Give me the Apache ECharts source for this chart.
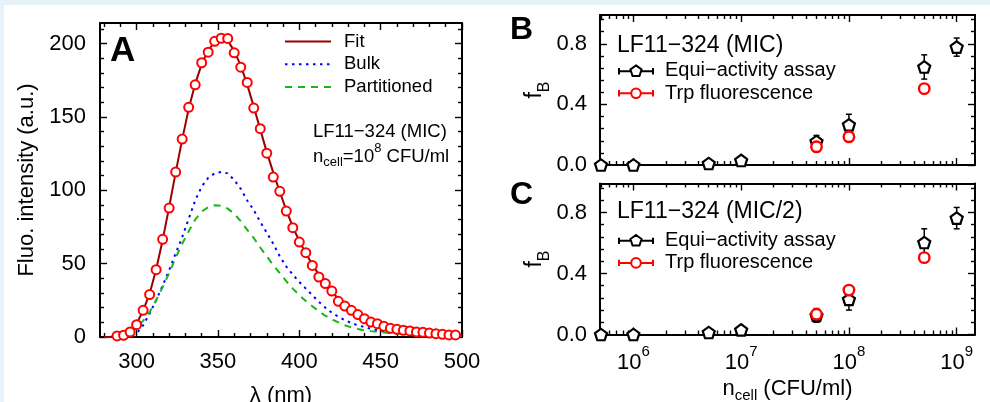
<!DOCTYPE html>
<html><head><meta charset="utf-8">
<script src="https://cdn.jsdelivr.net/npm/echarts@6/dist/echarts.min.js"></script>
<style>
html,body{margin:0;padding:0;background:#fff;}
#wrap{position:relative;width:990px;height:402px;overflow:hidden;background:#fff;}
#chart{position:absolute;left:0;top:0;width:990px;height:402px;}
#stripTop{position:absolute;left:0;top:0;width:990px;height:5px;background:#e6f3fa;}
#stripLeft{position:absolute;left:0;top:0;width:4px;height:402px;background:#e6f3fa;}
</style></head>
<body><div id="wrap"><div id="chart"></div><div id="stripTop"></div><div id="stripLeft"></div></div>
<script>
// ---------- Panel A data ----------
const measuredWavelength = [288,292,296,300,304,308,312,316,320,324,328,332,336,340,344,348,352,356,360,364,368,372,376,380,384,388,392,396,400,404,408,412,416,420,424,428,432,436,440,444,448,452,456,460,464,468,472,476,480,484,488,492,496];
const measuredIntensity = [0.7,1.2,3.4,8.4,18.2,28.9,45.9,66.6,87.9,112.4,134.9,156.5,171.9,186.9,194.1,201.5,203.6,203.5,193.7,183.9,173.5,156.0,142.0,125.3,109.0,99.3,85.8,74.5,64.7,57.5,48.8,40.9,36.4,31.3,24.3,21.1,18.2,15.3,12.5,10.2,9.1,7.3,5.9,5.2,4.6,4.1,3.4,3.2,2.7,2.3,1.8,1.4,1.4];
const curveWavelength = [280,284,288,292,296,300,304,308,312,316,320,324,328,332,336,340,344,348,352,356,360,364,368,372,376,380,384,388,392,396,400,404,408,412,416,420,424,428,432,436,440,444,448,452,456,460,464,468,472,476,480,484,488,492,496,500];
const fitIntensity = [0,0.1,0.6,1.5,4,9,18,29.5,46,66,88.5,112,134.5,155.5,172.5,186,195.5,201,203.5,202,195,185,172,157,141.5,126,112,99,86.5,75,65.5,57,49.5,42.5,36.5,31,26,22,18.5,15.5,13,11,9,7.5,6.3,5.3,4.5,3.9,3.3,2.9,2.5,2.1,1.8,1.5,1.3,1.1];
const bulkIntensity = [0,0,0.1,0.3,0.9,2.3,8,16,25,35,45.5,57,68,80.5,93,102.5,108.5,111.5,112.5,111.5,107,101,93,86.5,78.5,71,63.5,55,48,42.5,37.5,33,28.5,24,20,16.5,13.8,11.5,9.5,8,6.8,5.6,4.6,3.8,3.1,2.5,2.1,1.7,1.4,1.2,1.0,0.8,0.7,0.6,0.5,0.4];
const partitionedIntensity = [0,0.1,0.5,1.5,3.5,6.5,11,17,25,34,43.5,54,63.5,72,80,85.5,88.5,89.8,89.5,87.5,84,79,73,67.5,61,55,49,43.5,38,33,28.5,24.5,21,17.5,14.5,12,10,8,6.5,5.5,4.6,4,3.5,3,2.6,2.3,2,1.8,1.6,1.4,1.3,1.2,1.1,1.0,0.9,0.9];
const aXTicks = [300,350,400,450,500];
const aXMinorTicks = [280,290,310,320,330,340,360,370,380,390,410,420,430,440,460,470,480,490];
const aYTicks = [0,50,100,150,200];
const aYMinorTicks = [10,20,30,40,60,70,80,90,110,120,130,140,160,170,180,190,210];

// ---------- Panels B & C data ----------
const nCell = [5e5,1e6,5e6,1e7,5e7,1e8,5e8,1e9];
const equiB = [0,0,0.01,0.03,0.155,0.265,0.647,0.778];
const equiBErr = [0,0,0,0,0.04,0.07,0.08,0.06];
const trpCell = [5e7,1e8,5e8];
const trpB = [0.12,0.186,0.504];
const equiC = [0,0,0.013,0.03,0.125,0.23,0.603,0.763];
const equiCErr = [0,0,0,0,0.045,0.07,0.09,0.07];
const trpC = [0.133,0.291,0.504];
const nCellTicks = [1e6,1e7,1e8,1e9];
const nCellMinorTicks = [5e5,6e5,7e5,8e5,9e5,2e6,3e6,4e6,5e6,6e6,7e6,8e6,9e6,2e7,3e7,4e7,5e7,6e7,7e7,8e7,9e7,2e8,3e8,4e8,5e8,6e8,7e8,8e8,9e8];
const fBTicks = [0,0.4,0.8];
const fBMinorTicks = [0.08,0.16,0.24,0.32,0.48,0.56,0.64,0.72,0.88,0.96];

const FONT = "'Liberation Sans', Arial, Helvetica, sans-serif";
const lg = v => Math.log10(v);

const xAxes = [], yAxes = [];
function makeAxes(list, dim, grid, min, max, major, minor, label, nameOpt) {
  const first = list.length;
  const common = {type:'value', gridIndex:grid, min:min, max:max, splitLine:{show:false}, silent:true};
  const pos = dim === 'x' ? ['bottom','top'] : ['left','right'];
  pos.forEach((p, k) => {
    const main = Object.assign({}, common, {
      position:p,
      axisLine:{show:true, onZero:false, lineStyle:{color:'#000', width:2}},
      axisTick:{show:true, inside:true, length:7, customValues:major, lineStyle:{color:'#000', width:1.4}},
      axisLabel:(k === 0 && label) ? Object.assign({show:true, customValues:major, fontFamily:FONT, color:'#000'}, label) : {show:false}
    });
    if (k === 0 && nameOpt) Object.assign(main, nameOpt);
    list.push(main);
    list.push(Object.assign({}, common, {
      position:p,
      axisLine:{show:false, onZero:false},
      axisTick:{show:true, inside:true, length:4, customValues:minor, lineStyle:{color:'#000', width:1.4}},
      axisLabel:{show:false}
    }));
  });
  return first;
}

// Panel A axes
const axA = makeAxes(xAxes, 'x', 0, 277.5, 500, aXTicks, aXMinorTicks,
  {fontSize:22, margin:14},
  {name:'λ (nm)', nameLocation:'middle', nameGap:48, nameTextStyle:{fontFamily:FONT, fontSize:22, color:'#000'}});
const ayA = makeAxes(yAxes, 'y', 0, 0, 214, aYTicks, aYMinorTicks,
  {fontSize:22, margin:14},
  {name:'Fluo. intensity (a.u.)', nameLocation:'middle', nameGap:62, nameRotate:90, nameTextStyle:{fontFamily:FONT, fontSize:22, color:'#000'}});

// Panel B / C axes (log scale shown through log10 values)
const logMajor = nCellTicks.map(lg), logMinor = nCellMinorTicks.map(lg);
const xMin = 5.69, xMax = 9.17;
const fBName = {name:'{a|f}{s|B}', nameLocation:'middle', nameGap:52, nameRotate:90,
  nameTextStyle:{fontFamily:FONT, color:'#000', rich:{
    a:{fontFamily:FONT, fontSize:23, lineHeight:23, verticalAlign:'top', color:'#000'},
    s:{fontFamily:FONT, fontSize:16, lineHeight:16, padding:[13,0,0,0], verticalAlign:'top', color:'#000'}}}};
const fBLabel = {fontSize:22, margin:13, formatter:v => v.toFixed(1)};
const axB = makeAxes(xAxes, 'x', 1, xMin, xMax, logMajor, logMinor, null, null);
const ayB = makeAxes(yAxes, 'y', 1, 0, 0.99, fBTicks, fBMinorTicks, fBLabel, fBName);
const axC = makeAxes(xAxes, 'x', 2, xMin, xMax, logMajor, logMinor,
  {margin:10, formatter:v => '{b|10}{s|' + Math.round(v) + '}',
   rich:{b:{fontFamily:FONT, fontSize:22, lineHeight:22, padding:[7,0,0,0], verticalAlign:'top', color:'#000'},
         s:{fontFamily:FONT, fontSize:15, lineHeight:15, verticalAlign:'top', color:'#000'}}},
  {name:'{a|n}{s|cell}{a| (CFU/ml)}', nameLocation:'middle', nameGap:43,
   nameTextStyle:{fontFamily:FONT, color:'#000', rich:{
     a:{fontFamily:FONT, fontSize:22, lineHeight:22, verticalAlign:'top', color:'#000'},
     s:{fontFamily:FONT, fontSize:15, lineHeight:15, padding:[11,0,0,0], verticalAlign:'top', color:'#000'}}}});
const ayC = makeAxes(yAxes, 'y', 2, 0, 0.99, fBTicks, fBMinorTicks, fBLabel, fBName);

const pentagon = 'path://M0,-1L0.951,-0.309L0.588,0.809L-0.588,0.809L-0.951,-0.309Z';
const pentIcon = 'path://M0.5,3L0.5,9M0.5,6L11.8,6M21.2,6L32.5,6M32.5,3L32.5,9M16.5,0.5L21.73,4.3L19.73,10.45L13.27,10.45L11.27,4.3Z';
const circIcon = 'path://M0.5,3L0.5,9M0.5,6L12,6M21,6L32.5,6M32.5,3L32.5,9M12,6A4.5,4.5,0,1,0,21,6A4.5,4.5,0,1,0,12,6Z';

function errRender(params, api) {
  const x = api.value(0), y = api.value(1), e = api.value(2);
  if (!e) return null;
  const p1 = api.coord([x, y - e]), p2 = api.coord([x, y + e]);
  const hw = 3, st = {stroke:'#000', lineWidth:1.5};
  return {type:'group', children:[
    {type:'line', shape:{x1:p1[0], y1:p1[1], x2:p2[0], y2:p2[1]}, style:st},
    {type:'line', shape:{x1:p1[0]-hw, y1:p1[1], x2:p1[0]+hw, y2:p1[1]}, style:st},
    {type:'line', shape:{x1:p2[0]-hw, y1:p2[1], x2:p2[0]+hw, y2:p2[1]}, style:st}
  ]};
}
function panelSeries(ax, ay, equi, err, trp) {
  return [
    {type:'custom', name:'err'+ax, xAxisIndex:ax, yAxisIndex:ay, renderItem:errRender, clip:false, z:2,
     data:nCell.map((c,i) => [lg(c), equi[i], err[i]])},
    {type:'scatter', name:'Equi−activity assay', xAxisIndex:ax, yAxisIndex:ay, symbol:pentagon, symbolSize:[12,11.5], clip:false, z:3,
     itemStyle:{color:'#fff', borderColor:'#000', borderWidth:2.2, opacity:1},
     data:nCell.map((c,i) => [lg(c), equi[i]])},
    {type:'scatter', name:'Trp fluorescence', xAxisIndex:ax, yAxisIndex:ay, symbol:'circle', symbolSize:10.5, clip:false, z:4,
     itemStyle:{color:'#fff', borderColor:'#ff0000', borderWidth:2.4, opacity:1},
     data:trpCell.map((c,i) => [lg(c), trp[i]])}
  ];
}

const series = [
  {type:'line', name:'Fit', xAxisIndex:axA, yAxisIndex:ayA, showSymbol:false, symbol:'none', z:3,
   lineStyle:{color:'#990000', width:2}, itemStyle:{color:'#990000'},
   data:curveWavelength.map((w,i) => [w, fitIntensity[i]])},
  {type:'line', name:'Bulk', xAxisIndex:axA, yAxisIndex:ayA, showSymbol:false, symbol:'none', z:2,
   lineStyle:{color:'#0000ff', width:2, type:[2.5,4.5]}, itemStyle:{color:'#0000ff'},
   data:curveWavelength.map((w,i) => [w, bulkIntensity[i]])},
  {type:'line', name:'Partitioned', xAxisIndex:axA, yAxisIndex:ayA, showSymbol:false, symbol:'none', z:2,
   lineStyle:{color:'#1cb41c', width:2, type:[7,6]}, itemStyle:{color:'#1cb41c'},
   data:curveWavelength.map((w,i) => [w, partitionedIntensity[i]])},
  {type:'scatter', name:'Measured', xAxisIndex:axA, yAxisIndex:ayA, symbol:'circle', symbolSize:9, clip:false, z:4,
   itemStyle:{color:'#fff', borderColor:'#ff0000', borderWidth:2, opacity:1},
   data:measuredWavelength.map((w,i) => [w, measuredIntensity[i]])}
].concat(panelSeries(axB, ayB, equiB, equiBErr, trpB), panelSeries(axC, ayC, equiC, equiCErr, trpC));

function bcLegend(top) {
  return {orient:'vertical', left:618, top:top, padding:0, itemGap:2.6, itemWidth:34, itemHeight:12,
    selectedMode:false,
    textStyle:{fontFamily:FONT, fontSize:20, lineHeight:20, color:'#000', padding:[0,0,0,7]},
    itemStyle:{borderWidth:2},
    data:[{name:'Equi−activity assay', icon:pentIcon}, {name:'Trp fluorescence', icon:circIcon}]};
}

const option = {
  animation:false,
  backgroundColor:'transparent',
  textStyle:{fontFamily:FONT},
  grid:[
    {left:100, top:23, width:362, height:314, outerBoundsMode:'none', containLabel:false},
    {left:600, top:15, width:375, height:150, outerBoundsMode:'none', containLabel:false},
    {left:600, top:183.5, width:375, height:151, outerBoundsMode:'none', containLabel:false}
  ],
  xAxis:xAxes, yAxis:yAxes,
  legend:[
    {orient:'vertical', left:284, top:31.5, padding:0, itemGap:2.75, itemWidth:46, itemHeight:14, selectedMode:false,
     itemStyle:{opacity:0},
     textStyle:{fontFamily:FONT, fontSize:18.5, lineHeight:20, color:'#000', padding:[0,0,0,8]},
     data:['Fit','Bulk','Partitioned']},
    bcLegend(60.7), bcLegend(230.3)
  ],
  graphic:[
    {type:'text', left:110, top:33.5, style:{text:'A', font:'bold 35px ' + FONT, fill:'#000'}},
    {type:'text', left:510, top:14.3, style:{text:'B', font:'bold 32px ' + FONT, fill:'#000'}},
    {type:'text', left:510, top:179, style:{text:'C', font:'bold 32px ' + FONT, fill:'#000'}},
    {type:'text', left:313, top:122.5, style:{text:'LF11−324 (MIC)', font:'18.5px ' + FONT, fill:'#000'}},
    {type:'text', left:313, top:141, style:{text:'{a|n}{s|cell}{a|=10}{p|8}{a| CFU/ml}', fill:'#000',
      rich:{a:{fontFamily:FONT, fontSize:18.5, lineHeight:19, padding:[6,0,0,0], verticalAlign:'top', fill:'#000'},
            s:{fontFamily:FONT, fontSize:13, lineHeight:13, padding:[15,0,0,0], verticalAlign:'top', fill:'#000'},
            p:{fontFamily:FONT, fontSize:13, lineHeight:13, padding:[1,0,0,0], verticalAlign:'top', fill:'#000'}}}},
    {type:'text', left:617, top:33.7, style:{text:'LF11−324 (MIC)', font:'23px ' + FONT, fill:'#000'}},
    {type:'text', left:617, top:200.3, style:{text:'LF11−324 (MIC/2)', font:'23px ' + FONT, fill:'#000'}}
  ],
  series:series
};
const chart = echarts.init(document.getElementById('chart'), null, {renderer:'canvas'});
chart.setOption(option);
</script></body></html>
